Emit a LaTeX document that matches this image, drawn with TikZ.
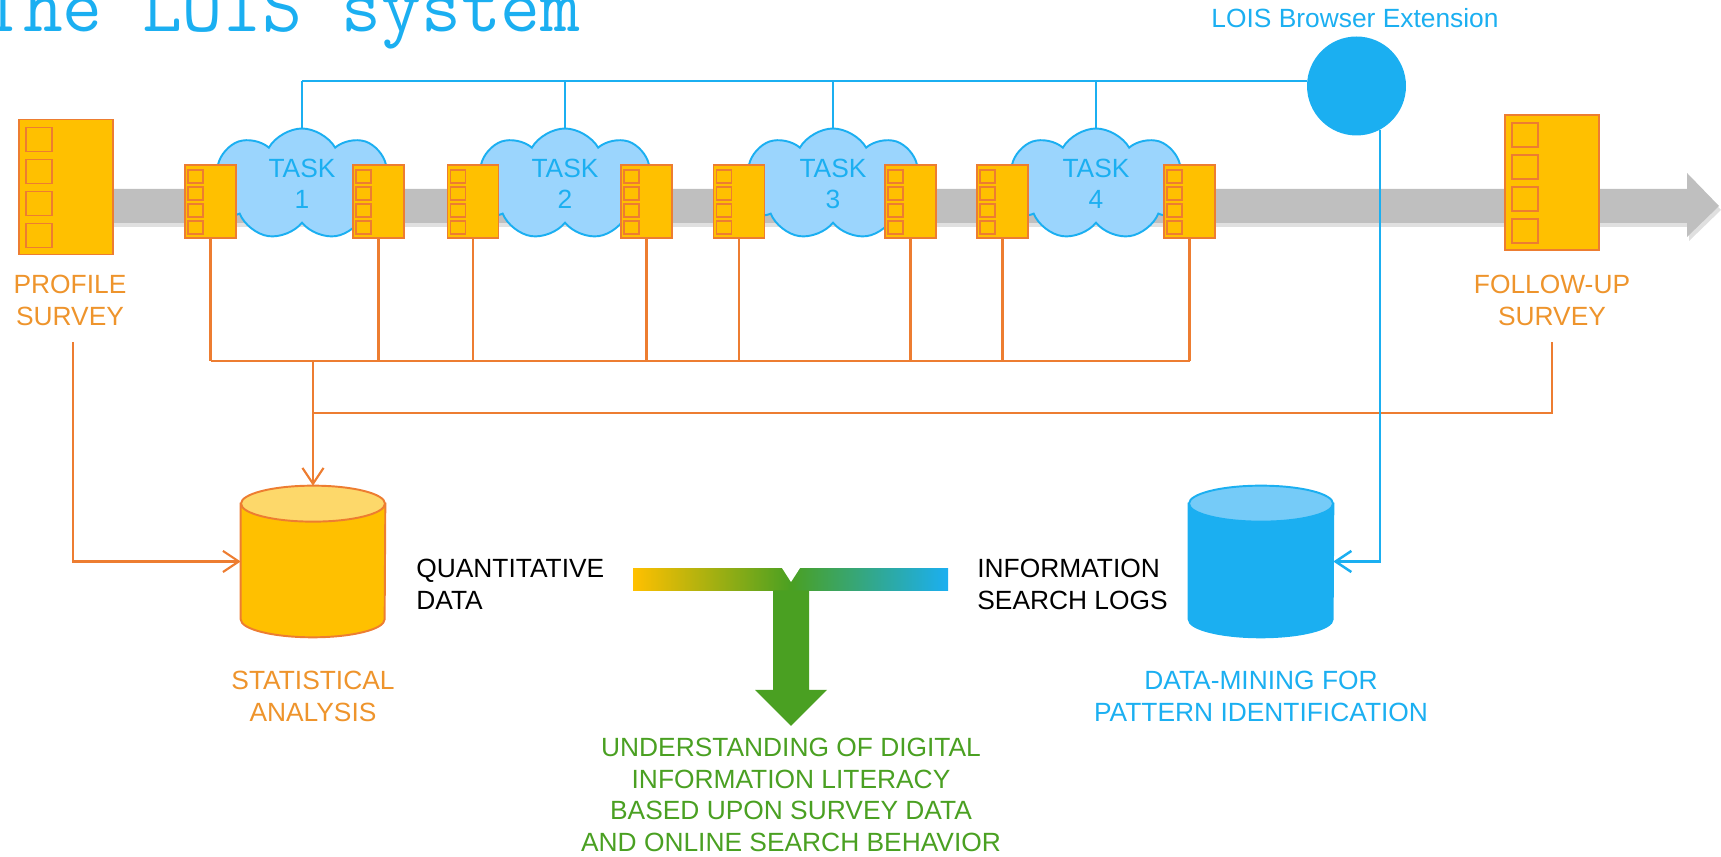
\documentclass[tikz,border=0pt]{standalone}
\usepackage{fontspec}
\setmainfont{Liberation Sans}
\usetikzlibrary{shapes.symbols,arrows.meta}

\definecolor{surveyfill}{RGB}{255,192,0}
\definecolor{surveyline}{RGB}{237,125,49}
\definecolor{surveytext}{RGB}{238,148,44}
\definecolor{loisblue}{RGB}{27,175,241}
\definecolor{cloudfill}{RGB}{155,213,253}
\definecolor{stattop}{RGB}{253,216,106}
\definecolor{minetop}{RGB}{117,203,248}
\definecolor{timeline}{RGB}{191,191,191}
\definecolor{resultgreen}{RGB}{74,160,34}

\tikzset{
  lbl/.style={font=\fontsize{15}{18}\selectfont, align=center, inner sep=0pt},
  survey/.style={draw=surveyline, fill=surveyfill, line width=1.1pt, inner sep=0pt,
    minimum width=1.88cm, minimum height=2.7cm,
    path picture={\foreach \k in {0,...,3}
      \draw[surveyline, line width=1pt] ([shift={(0.14cm,-0.16cm-\k*0.64cm)}]path picture bounding box.north west) rectangle ++(0.52cm,-0.48cm);}},
  minisurvey/.style={draw=surveyline, fill=surveyfill, line width=1.1pt, inner sep=0pt,
    minimum width=1.02cm, minimum height=1.46cm,
    path picture={\foreach \k in {0,...,3}
      \draw[surveyline, line width=0.9pt] ([shift={(0.06cm,-0.1cm-\k*0.34cm)}]path picture bounding box.north west) rectangle ++(0.3cm,-0.26cm);}},
  task/.style={cloud, cloud puffs=9, cloud puff arc=120, cloud ignores aspect,
    draw=loisblue, fill=cloudfill, line width=1.1pt, minimum width=3.95cm,
    minimum height=2.22cm, text=loisblue, lbl},
  dbbox/.style={minimum width=2.88cm, minimum height=3.02cm, inner sep=0pt},
  dbbody/.style={line width=1.1pt},
  orangeline/.style={surveyline, line width=1.2pt},
  blueline/.style={loisblue, line width=1.4pt},
  barb/.style={-{Straight Barb[length=9pt,width=12pt]}},
}

\begin{document}
\begin{tikzpicture}[x=0.02cm, y=0.02cm]
\useasboundingbox (0,0) rectangle (1721,857);

% title
\node [font=\ttfamily\fontsize{44}{44}\selectfont, text=loisblue, anchor=base west, inner sep=0pt] (title) at (-17,825) {The LOIS system};

% time line
\fill [black, opacity=0.12] (100,630) -- (1689,630) -- (1689,616) -- (1721,647) -- (1689,680) -- (1689,664) -- (100,664) -- cycle;
\fill [timeline] (100,634) -- (1687,634) -- (1687,620) -- (1719,651) -- (1687,684) -- (1687,668) -- (100,668) -- cycle;

% tasks
\node [task] (t1) at (302,673) {TASK\\1};
\node [task] (t2) at (565,673) {TASK\\2};
\node [task] (t3) at (833,673) {TASK\\3};
\node [task] (t4) at (1096,673) {TASK\\4};

% surveys around the tasks
\node [minisurvey] (b1) at (210.5,655.5) {};
\node [minisurvey] (b2) at (378.5,655.5) {};
\node [minisurvey] (b3) at (473,655.5) {};
\node [minisurvey] (b4) at (646.5,655.5) {};
\node [minisurvey] (b5) at (739,655.5) {};
\node [minisurvey] (b6) at (910.5,655.5) {};
\node [minisurvey] (b7) at (1002.5,655.5) {};
\node [minisurvey] (b8) at (1189.5,655.5) {};

\node [survey] (profile) at (66,670) {};
\node [survey] (followup) at (1552,674.5) {};
\node [lbl, text=surveytext, anchor=north] (profiletxt) at (70,582) {PROFILE\\SURVEY};
\node [lbl, text=surveytext, anchor=north] (followuptxt) at (1552,582) {FOLLOW-UP\\SURVEY};

% browser extension
\node [circle, fill=loisblue, minimum size=1.98cm, inner sep=0pt] (ext) at (1356.5,771) {};
\node [lbl, text=loisblue, anchor=base] (exttxt) at (1355,829) {LOIS Browser Extension};

% databases
\node [dbbox] (statdb) at (313,295.5) {};
\filldraw [dbbody, surveyline, fill=surveyfill] ([yshift=-0.36cm]statdb.north west) -- ([yshift=0.36cm]statdb.south west)
  arc [start angle=180, end angle=360, x radius=1.44cm, y radius=0.36cm] -- ([yshift=-0.36cm]statdb.north east) -- cycle;
\filldraw [dbbody, surveyline, fill=stattop] ([yshift=-0.36cm]statdb.north) ellipse [x radius=1.44cm, y radius=0.36cm];
\node [dbbox] (minedb) at (1261,295.5) {};
\filldraw [dbbody, loisblue, fill=loisblue] ([yshift=-0.36cm]minedb.north west) -- ([yshift=0.36cm]minedb.south west)
  arc [start angle=180, end angle=360, x radius=1.44cm, y radius=0.36cm] -- ([yshift=-0.36cm]minedb.north east) -- cycle;
\filldraw [dbbody, loisblue, fill=minetop] ([yshift=-0.36cm]minedb.north) ellipse [x radius=1.44cm, y radius=0.36cm];

\node [lbl, text=surveytext, anchor=north] (stattxt) at (313,186) {STATISTICAL\\ANALYSIS};
\node [lbl, text=loisblue, anchor=north] (minetxt) at (1261,186) {DATA-MINING FOR\\PATTERN IDENTIFICATION};
\node [lbl, align=left, anchor=north west] (quanttxt) at (416,298) {QUANTITATIVE\\DATA};
\node [lbl, align=left, anchor=north west] (logtxt) at (977,298) {INFORMATION\\SEARCH LOGS};
\node [lbl, text=resultgreen, anchor=north] (resulttxt) at (791,119) {UNDERSTANDING OF DIGITAL\\INFORMATION LITERACY\\BASED UPON SURVEY DATA\\AND ONLINE SEARCH BEHAVIOR};

% orange connectors
\coordinate (hub) at (0,496);
\coordinate (loop) at (0,444);
\coordinate (profileout) at (73,515);
\coordinate (followupout) at (1552,515);
\foreach \i in {1,...,8}
  \draw [orangeline] (b\i.south) -- (b\i.south |- hub);
\draw [orangeline] (b1.south |- hub) -- (b8.south |- hub);
\draw [orangeline, barb] (statdb.north |- hub) -- (statdb.north);
\draw [orangeline] (statdb.north |- loop) -- (followupout |- loop) -- (followupout);
\draw [orangeline, barb] (profileout) |- (statdb.west);

% blue connectors
\coordinate (bus) at (0,776);
\draw [blueline] (t1.north |- bus) -- (ext.west |- bus);
\draw [blueline, line width=1.1pt] (t1.north |- bus) -- (t1.north);
\draw [blueline, line width=1.1pt] (t2.north |- bus) -- (t2.north);
\draw [blueline, line width=1.1pt] (t3.north |- bus) -- (t3.north);
\draw [blueline, line width=1.1pt] (t4.north |- bus) -- (t4.north);
\draw [blueline, barb] (ext.-62) |- (minedb.east);

% merge into the result
\shade [left color=surveyfill, right color=resultgreen] (633,266) rectangle (791,288);
\shade [left color=resultgreen, right color=loisblue] (791,266) rectangle (948,288);
\fill [white] (782,289) -- (791,275) -- (800,289) -- cycle;
\fill [resultgreen] (773,266.5) -- (773,167) -- (755,167) -- (791,131) -- (827,167) -- (809,167) -- (809,266.5) -- cycle;
\end{tikzpicture}
\end{document}
